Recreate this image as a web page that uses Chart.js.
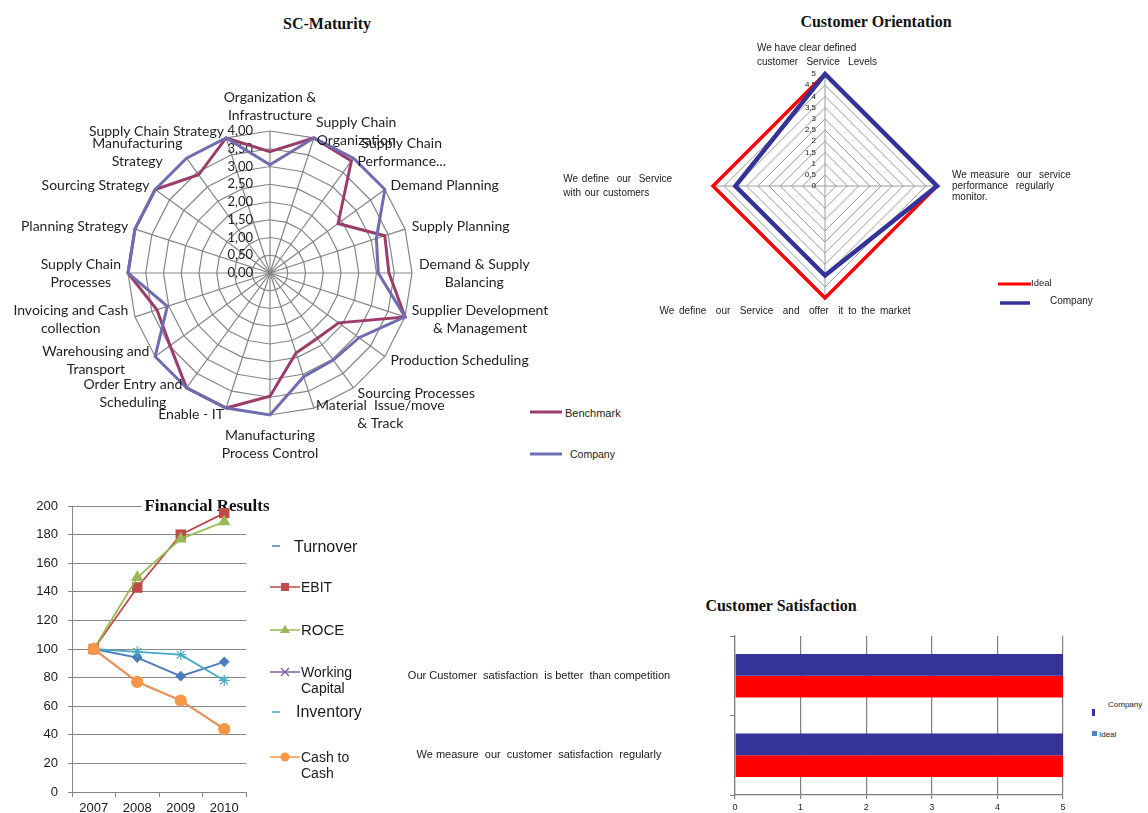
<!DOCTYPE html>
<html>
<head>
<meta charset="utf-8">
<title>Supply chain dashboard</title>
<script src="https://cdn.jsdelivr.net/npm/chart.js@4/dist/chart.umd.min.js"></script>
<style>
  html, body { margin: 0; padding: 0; background: #fff; }
  body { position: relative; width: 1148px; height: 813px; overflow: hidden;
         font-family: "Liberation Sans", Arial, sans-serif; color: #1a1a1a; }
  canvas { position: absolute; }
  .title { position: absolute; font-family: "Liberation Serif", "Times New Roman", serif;
           font-weight: bold; font-size: 16px; line-height: 18px; white-space: nowrap;
           transform: translateX(-50%); color: #111; }
  .lg { position: absolute; white-space: nowrap; }
  svg.mk { position: absolute; overflow: visible; }
</style>
</head>
<body>

<div class="title" style="left:327px;top:15px">SC-Maturity</div>
<div class="title" style="left:876px;top:13px">Customer Orientation</div>
<div class="title" style="left:781px;top:597px">Customer Satisfaction</div>

<canvas id="scChart" width="560" height="390" style="left:0px;top:80px"></canvas>
<canvas id="coChart" width="620" height="290" style="left:520px;top:35px"></canvas>
<canvas id="finChart" width="280" height="318" style="left:0px;top:496px"></canvas>
<canvas id="csChart" width="730" height="183" style="left:340px;top:630px"></canvas>

<!-- SC-Maturity legend -->
<svg class="mk" style="left:0;top:0" width="1" height="1">
  <line x1="530" y1="412" x2="562" y2="412" stroke="#9b3d6b" stroke-width="3"/>
  <line x1="530" y1="454" x2="562" y2="454" stroke="#6f6cb0" stroke-width="3"/>
</svg>
<div class="lg" style="left:565px;top:406px;font-size:11px;line-height:14px">Benchmark</div>
<div class="lg" style="left:570px;top:447px;font-size:10.5px;line-height:14px">Company</div>

<!-- Customer Orientation legend -->
<svg class="mk" style="left:0;top:0" width="1" height="1">
  <line x1="998" y1="284" x2="1031" y2="284" stroke="#ff0000" stroke-width="3"/>
  <line x1="1000" y1="303" x2="1030" y2="303" stroke="#333399" stroke-width="3.5"/>
</svg>
<div class="lg" style="left:1031px;top:277px;font-size:9.5px;line-height:12px">Ideal</div>
<div class="lg" style="left:1050px;top:295px;font-size:10px;line-height:12px">Company</div>

<!-- Financial Results legend -->
<svg class="mk" style="left:0;top:0" width="1" height="1">
  <line x1="272" y1="546" x2="280" y2="546" stroke="#4a7ebb" stroke-width="1.5"/>
  <line x1="270" y1="587" x2="300" y2="587" stroke="#be4b48" stroke-width="1.5"/>
  <rect x="281" y="583" width="8" height="8" fill="#be4b48"/>
  <line x1="270" y1="630" x2="300" y2="630" stroke="#98b954" stroke-width="1.5"/>
  <polygon points="285,625 290,633 280,633" fill="#98b954"/>
  <line x1="270" y1="672" x2="300" y2="672" stroke="#7d60a0" stroke-width="1.5"/>
  <path d="M281,668 L289,676 M289,668 L281,676" stroke="#7d60a0" stroke-width="1.3"/>
  <line x1="272" y1="712" x2="280" y2="712" stroke="#46aac5" stroke-width="1.5"/>
  <line x1="270" y1="757" x2="300" y2="757" stroke="#f79646" stroke-width="1.5"/>
  <circle cx="285" cy="757" r="4.5" fill="#f79646"/>
</svg>
<div class="lg" style="left:294px;top:537px;font-size:16px;line-height:20px">Turnover</div>
<div class="lg" style="left:301px;top:578px;font-size:14px;line-height:18px">EBIT</div>
<div class="lg" style="left:301px;top:621px;font-size:15px;line-height:18px">ROCE</div>
<div class="lg" style="left:301px;top:664px;font-size:14px;line-height:16px">Working<br>Capital</div>
<div class="lg" style="left:296px;top:702px;font-size:16px;line-height:20px">Inventory</div>
<div class="lg" style="left:301px;top:749px;font-size:14px;line-height:16px">Cash to<br>Cash</div>

<!-- Customer Satisfaction legend -->
<svg class="mk" style="left:0;top:0" width="1" height="1">
  <rect x="1092" y="709" width="3" height="7" fill="#333399"/>
  <rect x="1092" y="731" width="5" height="5" fill="#4f81bd"/>
</svg>
<div class="lg" style="left:1108px;top:699px;font-size:8px;line-height:11px">Company</div>
<div class="lg" style="left:1099px;top:729px;font-size:8px;line-height:11px">Ideal</div>

<script>
// ---- SC-Maturity radar ----
const scCategories = [
  ['Organization &', 'Infrastructure'],
  ['Supply Chain', 'Organization'],
  ['Supply Chain', 'Performance...'],
  'Demand Planning',
  'Supply Planning',
  ['Demand & Supply', 'Balancing'],
  ['Supplier Development', '& Management'],
  'Production Scheduling',
  'Sourcing Processes',
  ['Material  Issue/move', '& Track'],
  ['Manufacturing', 'Process Control'],
  'Enable - IT',
  ['Order Entry and', 'Scheduling'],
  ['Warehousing and', 'Transport'],
  ['Invoicing and Cash', 'collection'],
  ['Supply Chain', 'Processes'],
  'Planning Strategy',
  'Sourcing Strategy',
  ['Manufacturing', 'Strategy'],
  'Supply Chain Strategy'
];
const scBenchmark = [3.42, 4.0, 3.9, 2.37, 3.4, 3.35, 4.0, 2.39, 2.27, 2.37, 3.47, 4.0, 4.0, 3.48, 3.35, 4.0, 4.0, 4.0, 3.42, 4.0];
const scCompany   = [3.05, 4.0, 4.0, 4.0, 3.15, 3.05, 4.0, 3.1, 3.03, 3.07, 4.0, 4.0, 4.0, 4.0, 3.04, 4.0, 4.0, 4.0, 4.0, 4.0];
const scTickLabels = ['0,00', '0,50', '1,00', '1,50', '2,00', '2,50', '3,00', '3,50', '4,00'];

// ---- Customer Orientation radar ----
const coCategories = [
  ['We have clear defined', 'customer   Service   Levels'],
  ['We measure  our  service', 'performance  regularly', 'monitor.'],
  'We define  our  Service  and  offer  it to the market',
  ['We define  our  Service', 'with our customers']
];
const coIdeal   = [5, 5, 5, 5];
const coCompany = [5, 5, 4, 4];
const coTickLabels = ['0', '0,5', '1', '1,5', '2', '2,5', '3', '3,5', '4', '4,5', '5'];

// ---- Financial Results ----
const finYears = ['2007', '2008', '2009', '2010'];
const finTurnover       = [100, 94, 81, 91];
const finEbit           = [100, 143, 180, 195];
const finRoce           = [100, 150, 177, 189];
const finWorkingCapital = [100, 77, 64, 44];
const finInventory      = [100, 98, 96, 78];
const finCashToCash     = [100, 77, 64, 44];

// ---- Customer Satisfaction ----
const csCategories = ['Our Customer  satisfaction  is better  than competition', 'We measure  our  customer  satisfaction  regularly'];
const csCompany = [5, 5];
const csIdeal   = [5, 5];

Chart.defaults.font.family = '"Liberation Sans", Arial, sans-serif';
Chart.defaults.color = '#1a1a1a';

// Radial tick labels sit just left of the vertical spoke
function radialTickText(id, labels, font, gap) {
  return {
    id: id,
    beforeDatasetsDraw(chart) {
      const s = chart.scales.r;
      const ctx = chart.ctx;
      ctx.save();
      ctx.font = font;
      ctx.fillStyle = '#222';
      ctx.textAlign = 'right';
      ctx.textBaseline = 'middle';
      s.ticks.forEach((t, i) => {
        const y = s.yCenter - s.getDistanceFromCenterForValue(t.value);
        ctx.fillText(labels[i], s.xCenter - gap, y);
      });
      ctx.restore();
    }
  };
}

// Spoke captions: a text block on each spoke just outside the outer ring,
// vertically centred except at the very top and bottom.
function radarCaptions(id, cfg) {
  return {
    id: id,
    afterDatasetsDraw(chart) {
      const s = chart.scales.r;
      const ctx = chart.ctx;
      ctx.save();
      ctx.font = cfg.font;
      ctx.fillStyle = cfg.color;
      ctx.textBaseline = 'middle';
      chart.data.labels.forEach((label, i) => {
        if ('wordSpacing' in ctx) ctx.wordSpacing = cfg.wordSpacing ? cfg.wordSpacing(i) : '0px';
        const lines = Array.isArray(label) ? label : [label];
        const lh = cfg.lineHeight(i);
        const pos = s.getPointPosition(i, s.drawingArea + cfg.padding(i));
        const deg = Math.round(s.getIndexAngle(i) * 180 / Math.PI) % 360;
        const blockW = Math.max(...lines.map(l => ctx.measureText(l).width));
        const x = pos.x + (cfg.shift ? cfg.shift(i) : 0);
        let left;
        if (deg === 0 || deg === 180) left = x - blockW / 2;
        else if (deg < 180) left = x;
        else left = x - blockW;
        const h = lines.length * lh;
        let top = pos.y - h / 2;
        if (deg === 0) top = pos.y - h;
        else if (deg === 180) top = pos.y;
        lines.forEach((ln, k) => {
          const y = top + lh * (k + 0.5);
          if (cfg.lineAlign === 'left') {
            ctx.textAlign = 'left';
            ctx.fillText(ln, left, y);
          } else {
            ctx.textAlign = 'center';
            ctx.fillText(ln, left + blockW / 2, y);
          }
        });
      });
      ctx.restore();
    }
  };
}

new Chart(document.getElementById('scChart'), {
  type: 'radar',
  data: {
    labels: scCategories,
    datasets: [
      { label: 'Benchmark', data: scBenchmark, borderColor: '#9b3d6b', borderWidth: 3,
        pointRadius: 0, fill: false, order: 1 },
      { label: 'Company', data: scCompany, borderColor: '#6f6cb0', borderWidth: 3,
        pointRadius: 0, fill: false, order: 0 }
    ]
  },
  options: {
    responsive: false, animation: false,
    layout: { padding: { left: 128, right: 148, top: 51, bottom: 55 } },
    elements: { line: { tension: 0, borderJoinStyle: 'miter' } },
    plugins: { legend: { display: false }, tooltip: { enabled: false } },
    scales: {
      r: {
        min: 0, max: 4,
        ticks: { display: false, stepSize: 0.5 },
        grid: { color: '#858585', lineWidth: 1.2 },
        angleLines: { color: '#858585', lineWidth: 1.2 },
        pointLabels: { display: false }
      }
    }
  },
  plugins: [
    radialTickText('scTicks', scTickLabels, '13px Lato', 17),
    radarCaptions('scCaptions', {
      font: '14px Lato', color: '#1e1e1e', lineAlign: 'center',
      lineHeight: () => 18,
      padding: (i) => (i === 10 ? 11 : 7)
    })
  ]
});

const coPadding = [5, 15, 6, 41];
const coShift = [-8, 0, -40, 0];
const coSpacing = ['0px', '1px', '2px', '1px'];
new Chart(document.getElementById('coChart'), {
  type: 'radar',
  data: {
    labels: coCategories,
    datasets: [
      { label: 'Ideal', data: coIdeal, borderColor: '#ff0000', borderWidth: 3.5,
        pointRadius: 0, fill: false, order: 1 },
      { label: 'Company', data: coCompany, borderColor: '#333399', borderWidth: 4.5,
        pointRadius: 0, fill: false, order: 0 }
    ]
  },
  options: {
    responsive: false, animation: false,
    layout: { padding: { left: 193, right: 203, top: 39, bottom: 27 } },
    elements: { line: { tension: 0, borderJoinStyle: 'miter' } },
    plugins: { legend: { display: false }, tooltip: { enabled: false } },
    scales: {
      r: {
        min: 0, max: 5,
        ticks: { display: false, stepSize: 0.5 },
        grid: { color: '#9a9a9a', lineWidth: 1 },
        angleLines: { color: '#9a9a9a', lineWidth: 1 },
        pointLabels: { display: false }
      }
    }
  },
  plugins: [
    radialTickText('coTicks', coTickLabels, '8px "Liberation Sans"', 9),
    radarCaptions('coCaptions', {
      font: '10px "Liberation Sans"', color: '#1a1a1a', lineAlign: 'left',
      wordSpacing: (i) => coSpacing[i],
      lineHeight: (i) => (i === 1 ? 11 : 14),
      padding: (i) => coPadding[i],
      shift: (i) => coShift[i]
    })
  ]
});

// Chart title painted under the series but over the grid
const finTitle = {
  id: 'finTitle',
  beforeDatasetsDraw(chart) {
    const ctx = chart.ctx;
    ctx.save();
    ctx.font = 'bold 17px "Liberation Serif", "Times New Roman", serif';
    const text = 'Financial Results';
    const w = ctx.measureText(text).width;
    const cx = 207, cy = 11;
    ctx.fillStyle = '#fff';
    ctx.fillRect(cx - w / 2 - 3, cy - 9, w + 6, 18);
    ctx.fillStyle = '#111';
    ctx.textAlign = 'center';
    ctx.textBaseline = 'middle';
    ctx.fillText(text, cx, cy);
    ctx.restore();
  }
};

function finSeries(label, data, color, style, radius, order) {
  return { label: label, data: data, borderColor: color, backgroundColor: color,
           borderWidth: 1.8, pointStyle: style, pointRadius: radius,
           pointBorderColor: color, pointBackgroundColor: color, pointBorderWidth: 1.2,
           tension: 0, fill: false, order: order };
}

new Chart(document.getElementById('finChart'), {
  type: 'line',
  data: {
    labels: finYears,
    datasets: [
      finSeries('Turnover', finTurnover, '#4a7ebb', 'rectRot', 4.5, 5),
      finSeries('EBIT', finEbit, '#be4b48', 'rect', 6.5, 4),
      finSeries('ROCE', finRoce, '#98b954', 'triangle', 6, 3),
      finSeries('Working Capital', finWorkingCapital, '#7d60a0', 'crossRot', 5.5, 2),
      finSeries('Inventory', finInventory, '#46aac5', 'star', 5.5, 1),
      finSeries('Cash to Cash', finCashToCash, '#f79646', 'circle', 5.5, 0)
    ]
  },
  options: {
    responsive: false, animation: false,
    layout: { padding: { top: 10, right: 34, left: 0, bottom: 0 } },
    plugins: { legend: { display: false }, tooltip: { enabled: false } },
    scales: {
      x: {
        offset: true,
        grid: { drawOnChartArea: false, offset: true, tickLength: 5, color: '#868686' },
        border: { color: '#868686' },
        ticks: { font: { size: 13 }, color: '#1a1a1a', padding: 4, maxRotation: 0 },
        afterFit(s) { s.height = 22; s.paddingLeft = 0; s.paddingRight = 0; }
      },
      y: {
        min: 0, max: 200,
        grid: { color: '#868686', tickLength: 4 },
        border: { color: '#868686' },
        ticks: { stepSize: 20, font: { size: 13 }, color: '#1a1a1a', padding: 10 },
        afterFit(s) { s.width = 72; s.paddingTop = 0; s.paddingBottom = 0; }
      }
    }
  },
  plugins: [finTitle]
});

// Category captions of the bar chart are centred at a fixed distance from the axis
const csFont = '11px "Liberation Sans", Arial, sans-serif';
const measureCtx = document.createElement('canvas').getContext('2d');
measureCtx.font = csFont;
const csWidest = Math.max(...csCategories.map(t => measureCtx.measureText(t).width));
const csTickLen = 5;
const csLabelPad = Math.max(4, 196 - csTickLen - csWidest / 2);

new Chart(document.getElementById('csChart'), {
  type: 'bar',
  data: {
    labels: csCategories,
    datasets: [
      { label: 'Company', data: csCompany, backgroundColor: '#333399' },
      { label: 'Ideal', data: csIdeal, backgroundColor: '#ff0000' }
    ]
  },
  options: {
    indexAxis: 'y',
    responsive: false, animation: false,
    categoryPercentage: 0.55, barPercentage: 1.0,
    layout: { padding: { top: 6, right: 7, left: 0, bottom: 0 } },
    plugins: { legend: { display: false }, tooltip: { enabled: false } },
    scales: {
      x: {
        min: 0, max: 5,
        grid: { color: '#7f7f7f', lineWidth: 1.2, tickLength: 4 },
        border: { color: '#7f7f7f', width: 1.2 },
        ticks: { stepSize: 1, font: { size: 9 }, color: '#1a1a1a', padding: 3 },
        afterFit(s) { s.height = 18; s.paddingLeft = 0; s.paddingRight = 0; }
      },
      y: {
        offset: true,
        grid: { drawOnChartArea: false, offset: true, tickLength: csTickLen, color: '#7f7f7f' },
        border: { color: '#7f7f7f', width: 1.2 },
        ticks: { crossAlign: 'center', padding: csLabelPad, color: '#1a1a1a',
                 font: { size: 11 } },
        afterFit(s) { s.width = 395; s.paddingTop = 0; s.paddingBottom = 0; }
      }
    }
  }
});
</script>
</body>
</html>
